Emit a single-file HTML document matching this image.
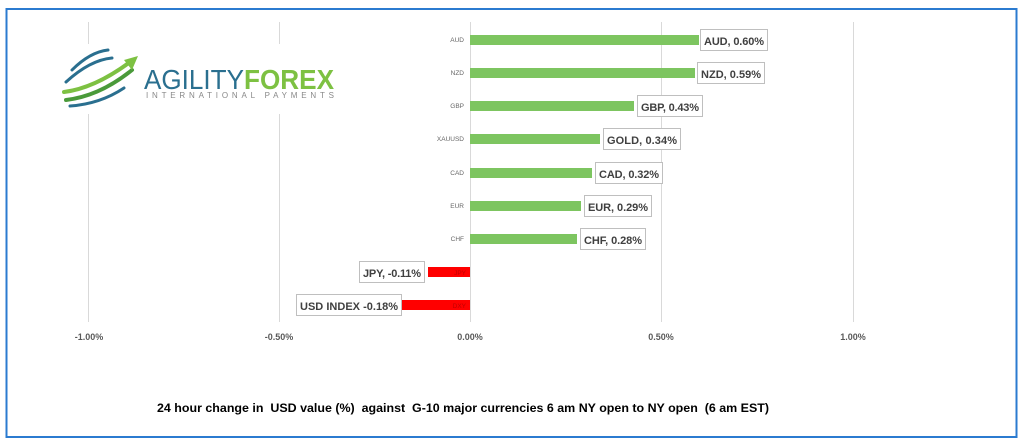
<!DOCTYPE html>
<html><head><style>
html,body{margin:0;padding:0;background:#fff;width:1024px;height:447px;overflow:hidden}
svg{display:block;font-family:"Liberation Sans",sans-serif}
</style></head><body>
<svg width="1024" height="447" viewBox="0 0 1024 447">
<rect x="6.5" y="9" width="1010" height="428" fill="#fff" stroke="#2b7bd0" stroke-width="2"/>
<g stroke="#d9d9d9" stroke-width="1">
<line x1="88.5" y1="22" x2="88.5" y2="322"/><line x1="279.5" y1="22" x2="279.5" y2="322"/>
<line x1="470.5" y1="22" x2="470.5" y2="322"/><line x1="661.5" y1="22" x2="661.5" y2="322"/>
<line x1="853.5" y1="22" x2="853.5" y2="322"/>
</g>
<rect x="60" y="44" width="276" height="70" fill="#fff"/>
<g fill="none" stroke-linecap="round">
<path d="M72 70 Q90 52 108 50" stroke="#2a6f8f" stroke-width="3"/>
<path d="M66 82 Q90 60 112 58" stroke="#2a6f8f" stroke-width="3"/>
<path d="M64 92 Q95 88 130 62" stroke="#7dc142" stroke-width="4"/>
<path d="M66 100 Q100 96 132 70" stroke="#4a9a3a" stroke-width="4"/>
<path d="M70 106 Q100 104 124 88" stroke="#2a6f8f" stroke-width="3"/>
</g>
<polygon points="124,60 138,56 132,70" fill="#7dc142"/>
<text x="144" y="89" font-size="28" fill="#2a6f8f" textLength="100" lengthAdjust="spacingAndGlyphs">AGILITY</text>
<text x="244" y="89" font-size="28" font-weight="bold" fill="#7dc142" textLength="90" lengthAdjust="spacingAndGlyphs">FOREX</text>
<text x="146" y="98" font-size="8" fill="#888" textLength="188" lengthAdjust="spacing">INTERNATIONAL PAYMENTS</text>
<g font-size="6.5" fill="#666" text-anchor="end">
<text x="464" y="42">AUD</text><text x="464" y="75">NZD</text><text x="464" y="108">GBP</text>
<text x="464" y="141">XAUUSD</text><text x="464" y="175">CAD</text><text x="464" y="208">EUR</text>
<text x="464" y="241">CHF</text>
</g>
<g fill="#7dc560">
<rect x="470" y="35" width="229" height="10"/><rect x="470" y="68" width="225" height="10"/>
<rect x="470" y="101" width="164" height="10"/><rect x="470" y="134" width="130" height="10"/>
<rect x="470" y="168" width="122" height="10"/><rect x="470" y="201" width="111" height="10"/>
<rect x="470" y="234" width="107" height="10"/>
</g>
<g fill="#ff0000">
<rect x="428" y="267" width="42" height="10"/><rect x="401" y="300" width="69" height="10"/>
</g>
<g font-size="6.5" fill="#c00000" text-anchor="end"><text x="466" y="275">JPY</text><text x="466" y="308">DXY</text></g>
<g fill="#fff" stroke="#bfbfbf" stroke-width="1">
<rect x="700.5" y="29.5" width="67" height="21"/><rect x="697.5" y="62.5" width="67" height="21"/>
<rect x="637.5" y="95.5" width="65" height="21"/><rect x="603.5" y="128.5" width="77" height="21"/>
<rect x="595.5" y="162.5" width="67" height="21"/><rect x="584.5" y="195.5" width="67" height="21"/>
<rect x="580.5" y="228.5" width="65" height="21"/><rect x="359.5" y="261.5" width="65" height="21"/>
<rect x="296.5" y="294.5" width="105" height="21"/>
</g>
<g font-size="11" font-weight="bold" fill="#404040" lengthAdjust="spacingAndGlyphs">
<text x="704" y="45" textLength="60">AUD, 0.60%</text><text x="701" y="78" textLength="60">NZD, 0.59%</text>
<text x="641" y="111" textLength="58">GBP, 0.43%</text><text x="607" y="144" textLength="70">GOLD, 0.34%</text>
<text x="599" y="178" textLength="60">CAD, 0.32%</text><text x="588" y="211" textLength="60">EUR, 0.29%</text>
<text x="584" y="244" textLength="58">CHF, 0.28%</text><text x="363" y="277" textLength="58">JPY, -0.11%</text>
<text x="300" y="310" textLength="98">USD INDEX -0.18%</text>
</g>
<g font-size="9" font-weight="bold" fill="#595959" text-anchor="middle">
<text x="89" y="340">-1.00%</text><text x="279" y="340">-0.50%</text><text x="470" y="340">0.00%</text>
<text x="661" y="340">0.50%</text><text x="853" y="340">1.00%</text>
</g>
<text x="157" y="412" font-size="12" font-weight="bold" fill="#000" textLength="612" lengthAdjust="spacingAndGlyphs" style="white-space:pre">24 hour change in  USD value (%)  against  G-10 major currencies 6 am NY open to NY open  (6 am EST)</text>
</svg>
</body></html>
